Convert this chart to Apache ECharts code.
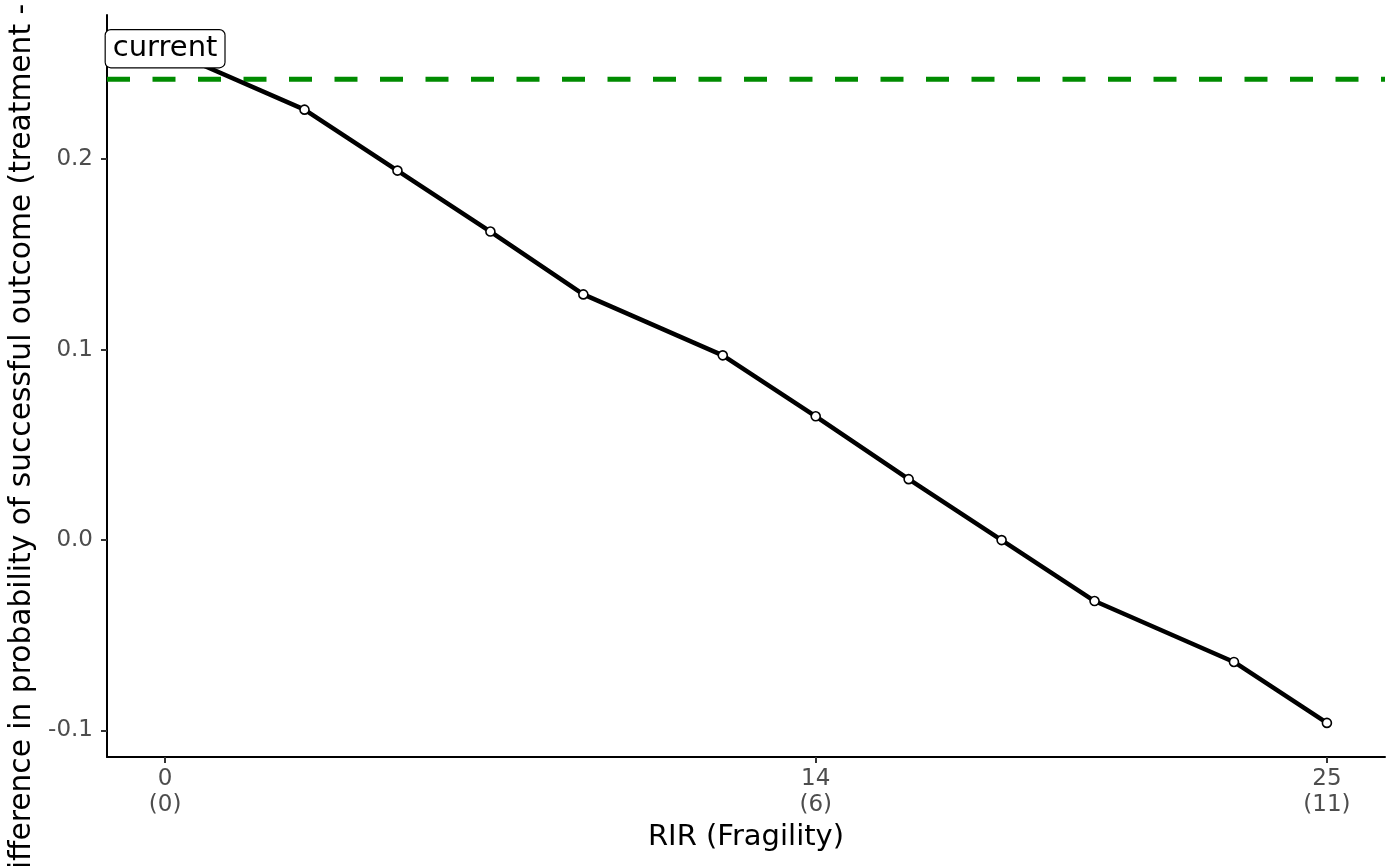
<!DOCTYPE html>
<html><head><meta charset="utf-8">
<script src="https://cdn.jsdelivr.net/npm/echarts@6/dist/echarts.min.js"></script>
<style>html,body{margin:0;padding:0;background:#fff}#c{width:1400px;height:866px}</style>
</head><body><div id="c"></div>
<script>
var rirValues = [0, 3, 5, 7, 9, 12, 14, 16, 18, 20, 23, 25];
var diffValues = [0.258, 0.226, 0.194, 0.162, 0.129, 0.097, 0.065, 0.032, 0.0, -0.032, -0.064, -0.096];
var thresholdValue = 0.242;
var xTickValues = [0, 14, 25];
var xTickSubLabels = {0: '(0)', 14: '(6)', 25: '(11)'};
var yTickValues = [-0.1, 0, 0.1, 0.2];
var currentLabel = 'current';
var xTitle = 'RIR (Fragility)';
var yTitle = 'Difference in probability of successful outcome (treatment - control)';

var font = 'DejaVu Sans';
var chart = echarts.init(document.getElementById('c'));
var pts = rirValues.map(function (x, i) {
  var item = { value: [x, diffValues[i]] };
  if (i === 0) {
    item.label = {
      show: true, position: 'inside', formatter: currentLabel,
      fontFamily: font, fontSize: 29, lineHeight: 30, color: '#000',
      backgroundColor: '#fff', borderColor: '#000', borderWidth: 1.2, borderRadius: 5,
      padding: [4, 7, 3, 7]
    };
    item.symbolSize = 0;
  }
  return item;
});
chart.setOption({
  animation: false,
  backgroundColor: '#fff',
  grid: { left: 107, right: 15, top: 15, bottom: 109, containLabel: false, outerBoundsMode: 'none' },
  xAxis: {
    type: 'value', min: -1.25, max: 26.25,
    name: xTitle, nameLocation: 'middle', nameGap: 63,
    nameTextStyle: { fontFamily: font, fontSize: 29, color: '#000' },
    axisLine: { show: true, onZero: false, lineStyle: { color: '#000', width: 2 } },
    axisTick: { show: true, length: 6, lineStyle: { color: '#333', width: 2 }, customValues: xTickValues },
    axisLabel: {
      fontFamily: font, fontSize: 23, color: '#4D4D4D', margin: 9, lineHeight: 26,
      customValues: xTickValues,
      formatter: function (v) { return v + '\n' + xTickSubLabels[v]; }
    },
    splitLine: { show: false }
  },
  yAxis: {
    type: 'value', min: -0.1139, max: 0.2757,
    name: yTitle, nameLocation: 'middle', nameGap: 70, nameRotate: 90,
    nameTextStyle: { fontFamily: font, fontSize: 29.7, color: '#000' },
    axisLine: { show: true, onZero: false, lineStyle: { color: '#000', width: 2 } },
    axisTick: { show: true, length: 6, lineStyle: { color: '#333', width: 2 }, customValues: yTickValues },
    axisLabel: {
      fontFamily: font, fontSize: 23, color: '#4D4D4D', margin: 14,
      customValues: yTickValues,
      formatter: function (v) { return v.toFixed(1); }
    },
    splitLine: { show: false }
  },
  series: [
    {
      type: 'line', data: [[-1.25, thresholdValue], [26.25, thresholdValue]],
      symbol: 'none', silent: true, z: 3,
      lineStyle: { color: '#008B00', width: 5, type: [23, 22.5] }
    },
    {
      type: 'line', data: pts, z: 4,
      symbol: 'circle', symbolSize: 9,
      itemStyle: { color: '#fff', borderColor: '#000', borderWidth: 1.6 },
      lineStyle: { color: '#000', width: 4.5 },
      labelLayout: { hideOverlap: false }
    }
  ]
});
</script></body></html>
